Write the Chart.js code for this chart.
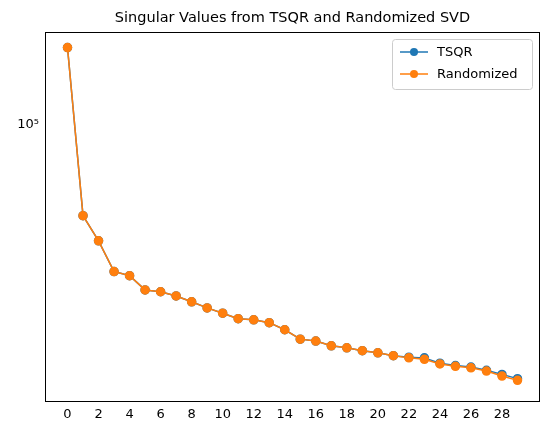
<!DOCTYPE html>
<html><head><meta charset="utf-8">
<script src="https://cdn.jsdelivr.net/npm/chart.js@4"></script>
<style>body{margin:0;background:#fff}</style></head>
<body><canvas id="c" width="550" height="435"></canvas>
<script>
const indices = [0,1,2,3,4,5,6,7,8,9,10,11,12,13,14,15,16,17,18,19,20,21,22,23,24,25,26,27,28,29];
const tsqr = [173900,52100,43500,34900,33900,30600,30200,29300,28100,26900,25900,24900,24700,24200,23000,21500,21200,20500,20200,19800,19500,19100,18900,18800,18100,17800,17600,17200,16700,16200];
const randomized = [173900,52100,43500,34900,33900,30600,30200,29300,28100,26900,25900,24900,24700,24200,23000,21500,21200,20500,20200,19800,19500,19100,18800,18600,18000,17700,17500,17100,16500,16000];
const xTicks = [0,2,4,6,8,10,12,14,16,18,20,22,24,26,28];
const yTicks = [20000,30000,40000,50000,60000,70000,80000,90000,100000];
const titleText = 'Singular Values from TSQR and Randomized SVD';
const seriesNames = ['TSQR','Randomized'];
const colors = ['#1f77b4','#ff7f0e'];
const font = 'DejaVu Sans';

const deco = {
  id:'deco',
  afterDraw(ch){
    const c=ch.ctx, a=ch.chartArea;
    c.save();
    c.fillStyle='#000'; c.font='14.5px "'+font+'"'; c.textAlign='center'; c.textBaseline='bottom';
    c.fillText(titleText,(a.left+a.right)/2,a.top-7);
    c.strokeStyle='#000'; c.lineWidth=1;
    c.strokeRect(a.left+0.5,a.top+0.5,a.right-a.left-1,a.bottom-a.top);
    // legend
    const lx=a.right-148, ly=a.top+7, w=140, h=50;
    c.fillStyle='rgba(255,255,255,0.8)'; c.strokeStyle='#ccc';
    c.beginPath(); c.roundRect(lx+0.5,ly+0.5,w,h,3); c.fill(); c.stroke();
    c.font='13px "'+font+'"'; c.textAlign='left'; c.textBaseline='middle';
    seriesNames.forEach((n,i)=>{
      const yy=ly+13+i*22;
      c.strokeStyle=colors[i]; c.lineWidth=1.5;
      c.beginPath(); c.moveTo(lx+8,yy); c.lineTo(lx+36,yy); c.stroke();
      c.fillStyle=colors[i]; c.beginPath(); c.arc(lx+22,yy,4,0,Math.PI*2); c.fill();
      c.fillStyle='#000'; c.fillText(n,lx+45,yy+1);
    });
    c.restore();
  }
};

new Chart(document.getElementById('c'),{
  type:'line',
  data:{datasets:[
    {label:seriesNames[0],order:2,data:indices.map((x,i)=>({x,y:tsqr[i]})),borderColor:colors[0],backgroundColor:colors[0],borderWidth:1.5,pointRadius:4,pointHoverRadius:4},
    {label:seriesNames[1],order:1,data:indices.map((x,i)=>({x,y:randomized[i]})),borderColor:colors[1],backgroundColor:colors[1],borderWidth:1.5,pointRadius:4,pointHoverRadius:4}
  ]},
  options:{
    responsive:false,animation:false,
    layout:{padding:{top:32,right:10,left:0,bottom:0}},
    plugins:{legend:{display:false},title:{display:false},tooltip:{enabled:false}},
    scales:{
      x:{type:'linear',min:-1.45,max:30.45,
        afterBuildTicks(s){s.ticks=xTicks.map(v=>({value:v}));},
        afterFit(s){s.height=34;},
        grid:{display:false,drawTicks:true,tickLength:4,tickColor:'#000'},
        border:{display:false},
        ticks:{color:'#000',font:{family:font,size:13},padding:2,maxRotation:0,autoSkip:false,callback:v=>String(v)}},
      y:{type:'logarithmic',min:13800,max:194400,
        afterBuildTicks(s){s.ticks=yTicks.map(v=>({value:v}));},
        afterFit(s){s.width=45;},
        grid:{display:false,drawTicks:true,tickLength:3,tickColor:'#000'},
        border:{display:false},
        ticks:{color:'#000',font:{family:font,size:13},padding:3,autoSkip:false,callback:v=>v===100000?'10⁵':''}}
    }
  },
  plugins:[deco]
});
</script></body></html>
